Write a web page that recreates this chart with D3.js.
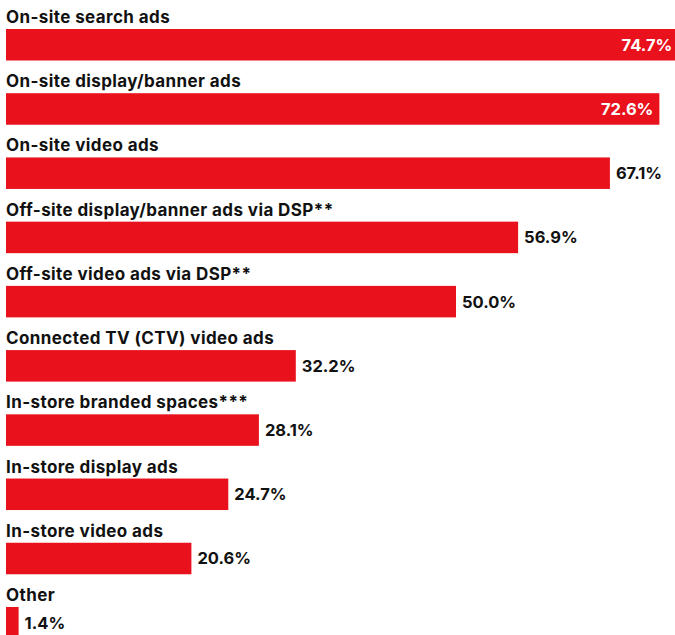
<!DOCTYPE html>
<html>
<head>
<meta charset="utf-8">
<script src="https://cdn.jsdelivr.net/npm/d3@7"></script>
<style>
  html, body { margin: 0; padding: 0; background: #fff; }
  svg { display: block; }
  .cat { font-family: Inter, "Noto Sans", sans-serif; font-weight: 700; font-size: 17px; fill: #111; letter-spacing: 0.4px; }
  .val { font-family: Inter, "Noto Sans", sans-serif; font-weight: 700; font-size: 16.5px; }
</style>
</head>
<body>
<svg id="chart"></svg>
<script>
// Ad formats and the share of respondents using each
const categories = [
  "On-site search ads",
  "On-site display/banner ads",
  "On-site video ads",
  "Off-site display/banner ads via DSP**",
  "Off-site video ads via DSP**",
  "Connected TV (CTV) video ads",
  "In-store branded spaces***",
  "In-store display ads",
  "In-store video ads",
  "Other"
];
const values = [74.7, 72.6, 67.1, 56.9, 50.0, 32.2, 28.1, 24.7, 20.6, 1.4];
const valueLabels = ["74.7%", "72.6%", "67.1%", "56.9%", "50.0%", "32.2%", "28.1%", "24.7%", "20.6%", "1.4%"];

const W = 675, H = 635;
const red = "#E8111C";

const svg = d3.select("#chart").attr("width", W).attr("height", H);

const x = d3.scaleLinear().domain([0, 100]).range([6, 906]);

// Each row: a label line above a bar
const rowStep = 64.22;
const y = d3.scaleBand()
  .domain(categories)
  .range([0, rowStep * categories.length])
  .paddingInner(0)
  .paddingOuter(0);

const barTop = 29, barH = 31.5;

const rows = svg.selectAll("g.row")
  .data(categories.map((c, i) => ({ c, v: values[i], label: valueLabels[i] })))
  .join("g")
  .attr("class", "row")
  .attr("transform", d => `translate(0,${y(d.c)})`);

rows.append("text")
  .attr("class", "cat")
  .attr("x", 6)
  .attr("y", barTop - 6)
  .text(d => d.c);

rows.append("rect")
  .attr("x", x(0))
  .attr("y", barTop)
  .attr("width", d => x(d.v) - x(0))
  .attr("height", barH)
  .attr("fill", red);

// Values sit inside the bar when there is no room past its end
const inside = d => x(d.v) + 60 > W;

rows.append("text")
  .attr("class", "val")
  .attr("x", d => inside(d) ? x(d.v) - 6 : x(d.v) + 6)
  .attr("y", barTop + barH / 2)
  .attr("dy", "0.36em")
  .attr("text-anchor", d => inside(d) ? "end" : "start")
  .attr("fill", d => inside(d) ? "#fff" : "#111")
  .text(d => d.label);
</script>
</body>
</html>
